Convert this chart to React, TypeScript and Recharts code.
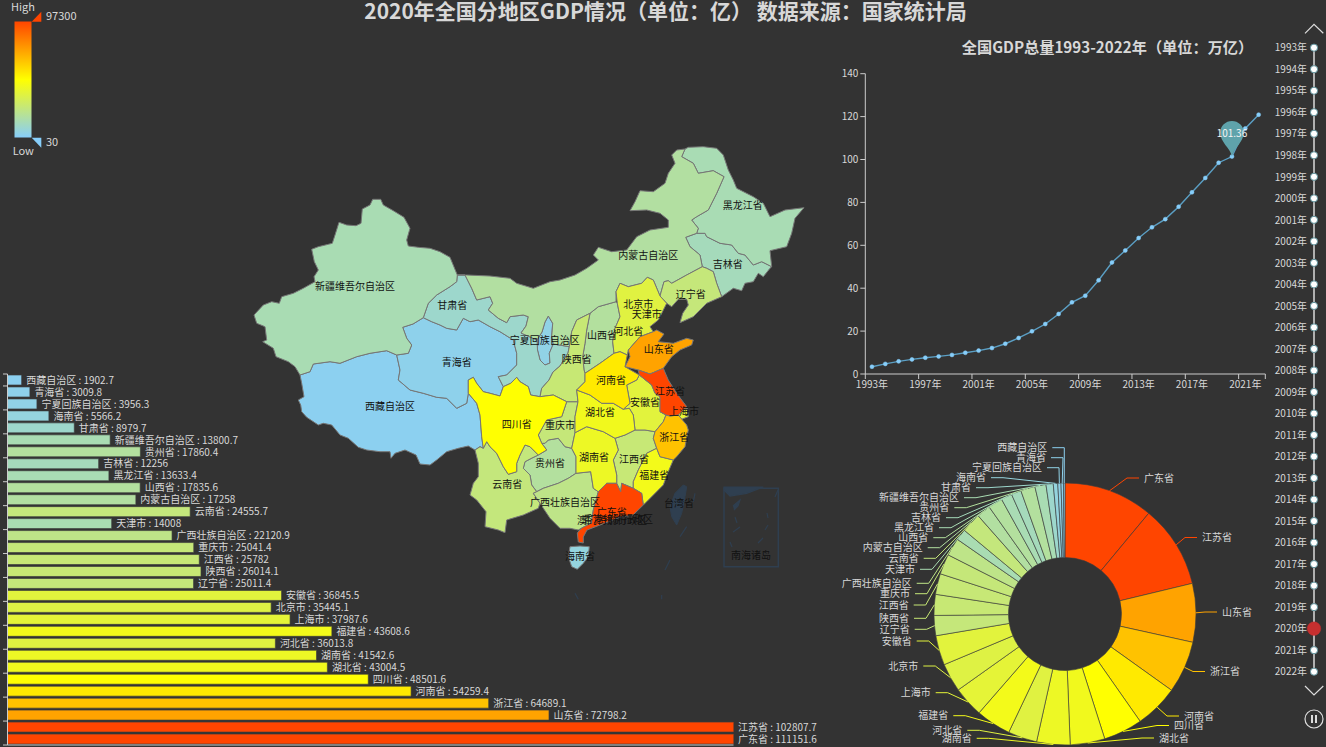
import {
  BarChart,
  Bar,
  Cell,
  ComposedChart,
  Line,
  LineChart,
  Pie,
  PieChart,
  ReferenceDot,
  Scatter,
  XAxis,
  YAxis,
} from "recharts";

const FONT = '"Noto Sans CJK SC", "Noto Sans", sans-serif';
const BG = "#333333";
const TEXT = "#d8d8d8";
const AXIS = "#cccccc";
// Noto sits a little lower than the reference face
const TEXT_NUDGE = -0.8;

// province GDP 2020, in the order of the bar chart, top to bottom
const regions = [
  "西藏自治区", "青海省", "宁夏回族自治区", "海南省", "甘肃省", "新疆维吾尔自治区", "贵州省", "吉林省",
  "黑龙江省", "山西省", "内蒙古自治区", "云南省", "天津市", "广西壮族自治区", "重庆市", "江西省",
  "陕西省", "辽宁省", "安徽省", "北京市", "上海市", "福建省", "河北省", "湖南省",
  "湖北省", "四川省", "河南省", "浙江省", "山东省", "江苏省", "广东省",
];
const gdp2020 = [
  1902.7, 3009.8, 3956.3, 5566.2, 8979.7, 13800.7, 17860.4, 12256,
  13633.4, 17835.6, 17258, 24555.7, 14008, 22120.9, 25041.4, 25782,
  26014.1, 25011.4, 36845.5, 35445.1, 37987.6, 43608.6, 36013.8, 41542.6,
  43004.5, 48501.6, 54259.4, 64689.1, 72798.2, 102807.7, 111151.6,
];
const barTicks = [0, 20000, 40000, 60000, 80000];

const years = [
  "1993年", "1994年", "1995年", "1996年", "1997年", "1998年", "1999年", "2000年", "2001年", "2002年",
  "2003年", "2004年", "2005年", "2006年", "2007年", "2008年", "2009年", "2010年", "2011年", "2012年",
  "2013年", "2014年", "2015年", "2016年", "2017年", "2018年", "2019年", "2020年", "2021年", "2022年",
];
const nationalGdp = [
  3.4, 4.7, 5.9, 6.8, 7.6, 8.2, 8.9, 9.9, 10.9, 12.1,
  14.1, 16.8, 19.9, 23.3, 28.0, 33.4, 36.5, 43.7, 52.0, 57.6,
  63.4, 68.4, 72.2, 78.0, 84.7, 91.4, 98.5, 101.36, 114.5, 120.9,
];
const lineTicks = [0, 20, 40, 60, 80, 100, 120, 140];
const currentYear = "2020年";

// pie goes clockwise from 广东省, label placement: [text edge x, y]
const pieLabelSpots: [number, number][] = [
  [1144, 478], [1202, 537.5], [1222, 612], [1210, 671.5], [1184, 716], [1174, 725.5], [1159, 738],
  [971.7, 738.3], [962.3, 730.3], [948.3, 715.7], [930.7, 692.7], [918.3, 666], [911.7, 641], [909.7, 629.3],
  [909, 618.3], [908.7, 605], [910, 593.7], [911.7, 583.3], [915, 569.3], [918.7, 558.3], [922.7, 547.7],
  [928.3, 537.7], [934, 527.7], [941, 517.7], [949.3, 507.7], [959, 497.7], [971, 487.7], [986, 477.7],
  [1042, 467.7], [1046, 457.7], [1047.3, 447.7],
];

// map label anchors in page pixels
const mapLabels: Record<string, [number, number]> = {
  新疆维吾尔自治区: [355, 286], 甘肃省: [452.3, 305.7], 青海省: [456.7, 362], 宁夏回族自治区: [544.7, 340],
  西藏自治区: [390, 406.7], 四川省: [516.7, 424.3], 重庆市: [560, 425], 云南省: [507.3, 484.3],
  贵州省: [550, 463.3], 广西壮族自治区: [565, 502.7], 陕西省: [576.7, 359.3], 山西省: [602, 335],
  河北省: [628.3, 331], 北京市: [638.3, 304], 天津市: [646.7, 314], 辽宁省: [690.7, 294],
  内蒙古自治区: [648.3, 255.3], 黑龙江省: [742.7, 205], 吉林省: [727.7, 264.3], 山东省: [658.7, 349.3],
  河南省: [611, 380.7], 江苏省: [670, 391.7], 安徽省: [645, 402.3], 湖北省: [600, 412.3],
  上海市: [684, 411], 浙江省: [674.3, 437.3], 湖南省: [594, 457.3], 江西省: [634, 459],
  福建省: [654.3, 475.3], 广东省: [611.7, 512.7], 海南省: [580, 556.7],
};
const noDataLabels: [string, number, number][] = [
  ["台湾省", 679, 503.3], ["南海诸岛", 751, 555.3], ["澳门特别行政区", 612, 520.5], ["香港特别行政区", 618, 519],
];

// province outlines, page pixels
const outlines: Record<string, string> = {
  新疆维吾尔自治区:
    "457.3,275 450,257.3 440,251.7 430,248.3 418.3,247.3 408.3,246 406.7,240 410,228.3 404,217.3 393.3,210.7 383.3,205 380.7,199.3 372.7,199.3 370,205 362.3,209 361,223.3 356,225.7 346.7,225 339,222.3 335,235 332.3,243.3 328.3,244.3 318.3,246.7 311.7,249.3 314.3,261.7 318.3,270 314,276.7 315,281.7 303.3,288.3 293.3,293.3 281.7,296.7 279.3,303.3 271.7,301.7 263.3,305 254,315 256.7,323.3 265,326.7 266.7,340 262.7,341.7 273.3,348.3 276,356.7 288.3,361.7 295,366.7 300,375 310,371.7 313.3,364 330,361.7 340,363.3 356.7,356.7 370,353.3 386.7,350.7 396.7,355 408.3,353.3 411.7,345 406.7,338.3 402.7,327.3 413,324 423.3,317.7 428.3,303.3 436.7,295 450,286.7 456.7,281.7",
  西藏自治区:
    "300,375 310,371.7 313.3,364 330,361.7 340,363.3 356.7,356.7 370,353.3 386.7,350.7 396.7,355 400,370 398.3,380 410,390 423.3,393.3 436.7,397.3 446.7,398.3 456.7,408.3 466.7,403.3 468.3,393.3 476.7,403.3 480,415 481.7,436.7 483.3,448.3 480,446.7 475,450 468.3,446 458.3,448.3 446.7,451.7 436.7,460 430,465 420,464 416,455 405,450 395,453.3 391,458.3 390,451.7 380,451.7 366.7,450 358.3,447.3 348.3,438.3 340,435 331.7,425 323.3,423.3 318.3,425 306.7,417.3 301.7,411.7 300.7,405 298.3,400 304,396.7 301.7,383.3",
  青海省:
    "402.7,327.3 413,324 423.3,317.7 431.7,321.7 440,325 446.7,328.3 456.7,330 463.3,318.3 470,321.7 478.3,320 490,326.7 500,331.7 513.3,340 516.7,353.3 516.7,365 506.7,375 498.3,376.7 503.3,386.7 500,396 490,393.3 483.3,391.7 476.7,383.3 473.3,377.3 468.3,380 468.3,393.3 466.7,403.3 456.7,408.3 446.7,398.3 436.7,397.3 423.3,393.3 410,390 398.3,380 400,370 396.7,355 408.3,353.3 411.7,345 406.7,338.3",
  甘肃省:
    "457.3,275 465,275 471.7,288.3 476.7,300 490,296.7 492.7,303.3 488.3,310 498.3,318.3 506.7,322.7 510,316.7 523.3,315 528.3,316.7 526,326 521,333 530,337 537,340 537.5,350 540,360 545,365 550,363 549.3,353.3 553.3,344 569.3,346.7 568,353 560,366 553,372 549,380 541.7,388.3 540,396.7 530.7,395 528.3,386.7 520,381.7 516.7,377.3 510.7,383.3 503.3,386.7 498.3,376.7 506.7,375 516.7,365 516.7,353.3 513.3,340 500,331.7 490,326.7 478.3,320 470,321.7 463.3,318.3 456.7,330 446.7,328.3 440,325 431.7,321.7 423.3,317.7 428.3,303.3 436.7,295 450,286.7 456.7,281.7",
  宁夏回族自治区:
    "548.3,316 552.7,323.3 551.7,336.7 553.3,344 549.3,353.3 550,363 545,365 540,360 537.5,350 537,340 542,332 545,322",
  内蒙古自治区:
    "457.3,275 466.7,275 490,276 510,278.3 516.7,283.3 533.3,288.3 550,281.7 560,280 575,275 586.7,268.3 598.3,260 593.3,255 598.3,247.3 611.7,251.7 626.7,250 636.7,236.7 650,230 668.3,227.3 668.3,220 660,213.3 646.7,210 630,210.7 635,201.7 640,190.7 653.3,191.7 665,183.3 668.3,173.3 675,163.3 671.7,155 676.7,150 685,149 681.7,156.7 693.3,163.3 698.3,173.3 713.3,170.7 724,176.7 716.7,193.3 708.3,210 696.7,216.7 691.7,220 698.3,228.3 696.7,233.3 685.7,237.3 690,246.7 700,255 702.3,266.7 686.7,275 671.7,283.3 668.3,280.7 664,281.7 660,296 653.3,280 647.3,277.3 641.7,283.3 628.3,286.7 620,283.3 616,291.7 616,301.7 598.3,306.7 590,313.3 576.7,320 571.7,331.7 569.3,346.7 553.3,344 551.7,336.7 552.7,323.3 548.3,316 545,322 542,332 537,340 530,337 521,333 526,326 528.3,316.7 523.3,315 510,316.7 506.7,322.7 498.3,318.3 488.3,310 492.7,303.3 490,296.7 476.7,300 471.7,288.3 465,275",
  黑龙江省:
    "685,149 688.3,147.3 703.3,146.7 716.7,148.3 723.3,155 728.3,170 733.3,180 736.7,188.3 753.3,196.7 763.3,203.3 770,216.7 785,210 804,207.7 795,218.3 791.7,233.3 786.7,246.7 770,250.7 771.7,266.7 761.7,261.7 753.3,265 745,255 738.3,253.3 731.7,245 720,243.3 706.7,236.7 705,233.3 696.7,233.3 698.3,228.3 691.7,220 696.7,216.7 708.3,210 716.7,193.3 724,176.7 713.3,170.7 698.3,173.3 693.3,163.3 681.7,156.7",
  吉林省:
    "696.7,233.3 705,233.3 706.7,236.7 720,243.3 731.7,245 738.3,253.3 745,255 753.3,265 761.7,261.7 771.7,266.7 770,268.3 763.3,276.7 758.3,273.3 753.3,281.7 745,283.3 741.7,290.7 733.3,288.3 721.7,296.7 716.7,283.3 713.3,271.7 706.7,268.3 702.3,266.7 700,255 690,246.7 685.7,237.3",
  辽宁省:
    "702.3,266.7 706.7,268.3 713.3,271.7 716.7,283.3 721.7,296.7 706.7,303.3 693.3,316.7 680,322.7 682.7,313.3 688.3,305 686.7,299.3 678.3,299.3 671.7,306.7 666.7,303.3 660,296 664,281.7 668.3,280.7 671.7,283.3 686.7,275",
  河北省:
    "616,291.7 620,283.3 628.3,286.7 641.7,283.3 647.3,277.3 653.3,280 660,296 666.7,303.3 661.7,313.3 658.3,320 650,326.7 653.3,331.7 640,336.7 628.3,350 627.3,355 620,351.7 614,353.3 612.7,341.7 615,328.3 620,316.7 617.3,303.3",
  北京市: "631.7,303.3 636.7,297.3 643.3,300 645,308.3 638.3,313.3 630,310",
  天津市: "641.7,315 648.3,313.3 651.7,318.3 650,324 643.3,325 640,320",
  山西省:
    "590,313.3 598.3,306.7 616,301.7 617.3,303.3 620,316.7 615,328.3 612.7,341.7 614,353.3 600,363.3 590,370 585,373.3 584,370 582.7,356.7 585,343.3 586.7,330",
  陕西省:
    "590,313.3 576.7,320 571.7,331.7 569.3,346.7 568,353 560,366 553,372 549,380 541.7,388.3 540,396.7 553.3,395 566.7,401.7 578,401.7 576.7,390 585,381.7 585,373.3 584,370 582.7,356.7 585,343.3 586.7,330",
  河南省:
    "585,373.3 590,370 600,363.3 614,353.3 620,351.7 627.3,355 625,366.7 639.3,375 636.7,380 626.7,385 630,403.3 623.3,409.3 613.3,403.3 601.7,403.3 590,395 576.7,390 585,381.7",
  山东省:
    "640,336.7 653.3,331.7 656.7,330 664,334 658.3,341.7 673.3,343.3 686.7,338.3 693.3,340 691.7,345 680,350 671.7,356.7 663.3,368.3 650,374 638.3,370 625,366.7 630,356.7 628.3,350",
  江苏省:
    "638.3,370 650,374 663.3,368.3 668.3,380 676.7,393.3 686.7,406.7 678.3,415 670,416 666,415 660,411.7 660,396.7 655,393.3 651.7,385 639.3,375",
  上海市: "680,410 687.3,408.3 688.3,416.7 681.7,419.3 678.3,415",
  安徽省:
    "639.3,375 651.7,385 655,393.3 660,396.7 660,411.7 666,415 663.3,421.7 655,431.7 645,430 635,430 633.3,415 629.3,408.3 623.3,409.3 630,403.3 626.7,385 636.7,380",
  湖北省:
    "576.7,390 590,395 601.7,403.3 613.3,403.3 623.3,409.3 629.3,408.3 633.3,415 635,430 625,435 615,438.3 603.3,431.7 586.7,426.7 575,432.7 575,416.7 578,401.7",
  重庆市:
    "566.7,401.7 578,401.7 575,416.7 575,432.7 571.7,448.3 565,446.7 558.3,438.3 548.3,440 545,443.3 541.7,443.3 538.3,435 546.7,420 561.7,416.7",
  四川省:
    "468.3,380 473.3,377.3 476.7,383.3 483.3,391.7 490,393.3 500,396 503.3,386.7 510.7,383.3 516.7,377.3 520,381.7 528.3,386.7 530.7,395 540,396.7 553.3,395 566.7,401.7 561.7,416.7 546.7,420 538.3,435 541.7,443.3 546.7,450 538.3,455 530,446.7 525,445 520,455 516.7,463.3 516.7,471.7 508.3,474.3 503.3,466.7 496.7,453.3 490,446.7 486.7,441.7 483.3,448.3 481.7,436.7 480,415 476.7,403.3 468.3,393.3",
  贵州省:
    "525,461.7 532,458 538.3,455 546.7,450 541.7,443.3 545,443.3 548.3,440 558.3,438.3 565,446.7 571.7,448.3 576,456.7 576,473.3 568.3,478.3 558.3,483.3 543.3,488.3 536.7,491.7 531.7,485 530,475 523.3,468.3",
  云南省:
    "483.3,448.3 486.7,441.7 490,446.7 496.7,453.3 503.3,466.7 508.3,474.3 516.7,471.7 516.7,463.3 520,455 525,445 530,446.7 538.3,455 532,458 525,461.7 523.3,468.3 530,475 531.7,485 536.7,491.7 533.3,493.3 540,503.3 538.3,508.3 523.3,515 506.7,520 505,532.7 498.3,530 485,526.7 486,511.7 476.7,500 470,495 473.3,483.3 478.3,476.7 478.3,463.3 475,450 480,446.7",
  广西壮族自治区:
    "536.7,491.7 543.3,488.3 558.3,483.3 568.3,478.3 576,473.3 590.7,471.7 593.3,488.3 598.3,491.7 593.3,510 591.7,520 591.7,523 581.7,528 578.3,530 570,528.3 560,528.3 550,518.3 540,503.3 533.3,493.3",
  湖南省:
    "575,432.7 586.7,426.7 603.3,431.7 615,438.3 618.3,450 613.3,460 616.7,475 616.7,483.3 606.7,483.3 598.3,491.7 593.3,488.3 590.7,471.7 576,473.3 576,456.7 571.7,448.3",
  江西省:
    "615,438.3 625,435 635,430 645,430 655,431.7 653.3,438.3 656.7,448.3 646.7,453.3 638.3,470 633.3,481.7 633.3,488.3 621.7,483.3 620.7,491.7 616.7,483.3 616.7,475 613.3,460 618.3,450",
  浙江省:
    "655,431.7 663.3,421.7 666,415 670,416 678.3,415 686.7,425 688.3,430 685,446.7 676.7,456.7 673.3,460 660,456.7 656.7,448.3 653.3,438.3",
  福建省:
    "656.7,448.3 660,456.7 673.3,460 668.3,471.7 663.3,485 646.7,501.7 643.3,505 641.7,493.3 633.3,488.3 633.3,481.7 638.3,470 646.7,453.3",
  广东省:
    "606.7,483.3 616.7,483.3 620.7,491.7 621.7,483.3 633.3,488.3 641.7,493.3 643.3,505 633,515 620,517 600,525 587,530 583.3,537 583.3,543 578.3,542 577.3,533 581.7,528 591.7,523 591.7,520 593.3,510 598.3,491.7",
  海南省:
    "570,546.7 580,546 589.3,546.7 588.3,556.7 583.3,563.3 577.3,569.3 571.7,566.7 568.3,556.7",
};
const taiwanOutline =
  "683.3,485 686.7,486.7 685,496.7 681.7,513.3 676.7,525 671.7,516.7 670,506.7 675,493.3";
const southSeaMarks = [
  "724,488.3 778.3,488.3 778.3,566.7 724,566.7",
  "724,490 730,496 746.7,493.3 763.3,487 724,487",
  "733,506 740,500 738,506 734,510",
  "735,517 737,523", "733,532 740,527", "730,542 732,547", "767,513 768,518", "765,530 768,525", "758,543 763,538", "775,497 778,490",
  "695,493.3 693.3,501.7", "686.7,526.7 680,536.7", "670,560 665,570", "575,593.3 578.3,599.3", "661.7,595 661.7,599.3",
];

const mapData = regions
  .filter((name) => mapLabels[name])
  .map((name) => ({
    name,
    value: gdp2020[regions.indexOf(name)],
    x: mapLabels[name][0],
    y: mapLabels[name][1],
  }));
const labelData = [
  ...mapData,
  ...noDataLabels.map(([name, x, y]) => ({ name, value: 0, x, y })),
];

const barData = regions.map((name, i) => ({ name, value: gdp2020[i] }));
const pieData = [...barData].reverse();
const lineData = years.map((year, i) => ({ year, value: nationalGdp[i] }));
const timelineData = years.map((year) => ({ year, track: 1 }));

const VISUAL_MIN = 30;
const VISUAL_MAX = 97300;

// same ramp as the visual map: lightskyblue -> yellow -> orangered
function rampColor(v: number) {
  const stops = [
    [135, 206, 250],
    [255, 255, 0],
    [255, 69, 0],
  ];
  const t = Math.max(0, Math.min(1, (v - VISUAL_MIN) / (VISUAL_MAX - VISUAL_MIN))) * 2;
  const i = t >= 1 ? 1 : 0;
  const f = t - i;
  const c = stops[i].map((s, k) => Math.round(s + (stops[i + 1][k] - s) * f));
  return `rgb(${c[0]},${c[1]},${c[2]})`;
}

function toPath(points: string, close = true) {
  return "M" + points.trim().split(" ").join("L") + (close ? "Z" : "");
}

const ProvinceShape = (props: any) => {
  const { cx, cy, payload } = props;
  return (
    <path
      d={toPath(outlines[payload.name])}
      transform={`translate(${cx - payload.x},${cy - payload.y})`}
      fill={rampColor(payload.value)}
      stroke="#767676"
      strokeWidth={1}
      strokeLinejoin="round"
    />
  );
};

const ProvinceLabel = (props: any) => {
  const { cx, cy, payload } = props;
  return (
    <text
      x={cx}
      y={cy + TEXT_NUDGE}
      textAnchor="middle"
      dominantBaseline="central"
      fontSize={10}
      fontFamily={FONT}
      fill="#111"
    >
      {payload.name}
    </text>
  );
};

const BAR_RIGHT = 733.5;

const BarValueLabel = (props: any) => {
  const { x, y, width, height, index } = props;
  const end = Math.min(x + width, BAR_RIGHT);
  return (
    <text
      x={end + 4.5}
      y={y + height / 2 + TEXT_NUDGE}
      dominantBaseline="central"
      fontSize={10}
      fontFamily={FONT}
      fill={TEXT}
    >
      {`${regions[index]} : ${gdp2020[index]}`}
    </text>
  );
};

const BarCategoryTick = (props: any) => {
  const { y, index } = props;
  const band = 371 / regions.length;
  if (index % 2 !== 0) return <g />;
  return (
    <g>
      <line x1={3} x2={7.5} y1={y + band / 2} y2={y + band / 2} stroke={AXIS} />
      {index === 0 && <line x1={3} x2={7.5} y1={y - band / 2} y2={y - band / 2} stroke={AXIS} />}
    </g>
  );
};

const PIE_LEFT = 840;
const PIE_TOP = 430;

const PieLabel = (props: any) => {
  const { cx, cy, midAngle, outerRadius, index, fill } = props;
  const [edge, labelY] = pieLabelSpots[index];
  const x = edge - PIE_LEFT;
  const y = labelY - PIE_TOP;
  const rad = (-midAngle * Math.PI) / 180;
  const sx = cx + outerRadius * Math.cos(rad);
  const sy = cy + outerRadius * Math.sin(rad);
  const right = index < 7;
  const end = right ? x - 5 : x + 5;
  const elbow = right ? x - 17 : x + 17;
  return (
    <g>
      <polyline
        points={`${sx},${sy} ${elbow},${y} ${end},${y}`}
        fill="none"
        stroke={fill}
        strokeWidth={1}
      />
      <text
        x={x}
        y={y + TEXT_NUDGE}
        textAnchor={right ? "start" : "end"}
        dominantBaseline="central"
        fontSize={10}
        fontFamily={FONT}
        fill={TEXT}
      >
        {pieData[index].name}
      </text>
    </g>
  );
};

const LINE_BAND = 400 / years.length;

const YearTick = (props: any) => {
  const { x, payload } = props;
  const axisY = 314;
  return (
    <g>
      <line x1={x - LINE_BAND / 2} x2={x - LINE_BAND / 2} y1={axisY} y2={axisY + 5} stroke={AXIS} />
      {payload.value === "2021年" && (
        <line x1={x + LINE_BAND * 1.5} x2={x + LINE_BAND * 1.5} y1={axisY} y2={axisY + 5} stroke={AXIS} />
      )}
      <text
        x={x}
        y={axisY + 10 + TEXT_NUDGE}
        textAnchor="middle"
        dominantBaseline="central"
        fontSize={10}
        fontFamily={FONT}
        fill={TEXT}
      >
        {payload.value}
      </text>
    </g>
  );
};

const PinMarker = (props: any) => {
  const { cx, cy } = props;
  const head = cy - 24;
  return (
    <g>
      <path
        d={`M${cx},${cy} C${cx - 2},${cy - 9} ${cx - 11.7},${cy - 14} ${cx - 11.7},${head} A11.7,11.7 0 1 1 ${cx + 11.7},${head} C${cx + 11.7},${cy - 14} ${cx + 2},${cy - 9} ${cx},${cy} Z`}
        fill="#5fa3ab"
      />
      <text
        x={cx}
        y={head + 1 + TEXT_NUDGE}
        textAnchor="middle"
        dominantBaseline="central"
        fontSize={10}
        fontFamily={FONT}
        fill="#f4f4f4"
      >
        101.36
      </text>
    </g>
  );
};

const TimelineTick = (props: any) => {
  const { y, payload } = props;
  return (
    <text
      x={67}
      y={y + TEXT_NUDGE}
      textAnchor="end"
      dominantBaseline="central"
      fontSize={10}
      fontFamily={FONT}
      fill={TEXT}
    >
      {payload.value}
    </text>
  );
};

const TimelineDot = (props: any) => {
  const { cx, cy, payload, index } = props;
  if (payload.year === currentYear) {
    return <circle key={index} cx={cx} cy={cy} r={6.8} fill="#c62f2f" stroke="#c62f2f" strokeOpacity={0.4} strokeWidth={1} />;
  }
  return <circle key={index} cx={cx} cy={cy} r={3.6} fill="#ffffff" stroke="#5c8f99" strokeWidth={1} />;
};

const layer = (left: number, top: number) => ({ position: "absolute" as const, left, top });

export default function App() {
  return (
    <div
      style={{
        position: "relative",
        width: 1326,
        height: 747,
        background: BG,
        overflow: "hidden",
        fontFamily: FONT,
      }}
    >
      <style>{"body{margin:0;background:#333}"}</style>

      {/* taiwan and the south sea frame sit under the map labels */}
      <svg width={1326} height={747} style={layer(0, 0)}>
        <path d={toPath(taiwanOutline)} fill="#2f3f50" stroke="#2f3f50" />
        {southSeaMarks.map((m, i) => (
          <path
            key={i}
            d={toPath(m, i > 1 ? false : true)}
            fill={i === 1 || i === 2 ? "#2f3f50" : "none"}
            stroke="#2f3f50"
            strokeWidth={i === 0 ? 1.5 : 1.2}
          />
        ))}
      </svg>

      {/* map: axes run in page pixels, outlines are traced against them */}
      <div style={layer(0, 0)}>
        <ComposedChart width={1326} height={747} margin={{ top: 0, right: 0, bottom: 0, left: 0 }}>
          <XAxis type="number" dataKey="x" domain={[0, 1326]} hide />
          <YAxis type="number" dataKey="y" domain={[0, 747]} reversed hide />
          <Scatter data={mapData} shape={ProvinceShape} isAnimationActive={false} />
          <Scatter data={labelData} shape={ProvinceLabel} isAnimationActive={false} />
        </ComposedChart>
      </div>

      <svg width={1326} height={747} style={{ ...layer(0, 0), pointerEvents: "none" }}>
        {/* titles */}
        <text x={665.5} y={10.3} textAnchor="middle" dominantBaseline="central" fontSize={21} fontWeight={700} fontFamily={FONT} fill={TEXT}>
          2020年全国分地区GDP情况（单位：亿） 数据来源：国家统计局
        </text>
        <text x={1107.5} y={46.3} textAnchor="middle" dominantBaseline="central" fontSize={15.2} fontWeight={700} fontFamily={FONT} fill={TEXT}>
          全国GDP总量1993-2022年（单位：万亿）
        </text>

        {/* visual map */}
        <defs>
          <linearGradient id="ramp" x1="0" y1="0" x2="0" y2="1">
            <stop offset="0" stopColor="#ff4500" />
            <stop offset="0.5" stopColor="#ffff00" />
            <stop offset="1" stopColor="#87cefa" />
          </linearGradient>
        </defs>
        <rect x={14.5} y={21.5} width={17} height={116} fill="url(#ramp)" />
        <polygon points="31.7,21.7 41.3,21.7 41.3,11.7" fill="#ff4500" />
        <polygon points="31.7,137.7 41.3,137.7 41.3,147.7" fill="#87cefa" />
        <text x={23} y={6.3} textAnchor="middle" dominantBaseline="central" fontSize={11} fontFamily={FONT} fill={TEXT}>High</text>
        <text x={23.3} y={149.7} textAnchor="middle" dominantBaseline="central" fontSize={11} fontFamily={FONT} fill={TEXT}>Low</text>
        <text x={46} y={14.5} dominantBaseline="central" fontSize={11} fontFamily={FONT} fill={TEXT}>97300</text>
        <text x={46} y={141.2} dominantBaseline="central" fontSize={11} fontFamily={FONT} fill={TEXT}>30</text>

        {/* timeline controls */}
        <polyline points="1305,33.3 1314,24.3 1323.3,33.3" fill="none" stroke="#dddddd" strokeWidth={1.2} />
        <polyline points="1305,686 1314,695 1323.3,686" fill="none" stroke="#dddddd" strokeWidth={1.2} />
        <circle cx={1314} cy={719} r={9} fill="none" stroke="#dddddd" strokeWidth={1.2} />
        <rect x={1311} y={715} width={2} height={8} fill="#dddddd" />
        <rect x={1315} y={715} width={2} height={8} fill="#dddddd" />
      </svg>

      {/* provinces bar */}
      <div style={layer(0, 360)}>
        <BarChart
          layout="vertical"
          width={900}
          height={387}
          data={barData}
          margin={{ top: 14, right: 166.5, bottom: 0, left: 0 }}
        >
          <XAxis
            type="number"
            domain={[0, 97600]}
            ticks={barTicks}
            allowDataOverflow
            height={2}
            tick={false}
            tickSize={5}
            stroke={AXIS}
          />
          <YAxis
            type="category"
            dataKey="name"
            width={7.5}
            interval={0}
            tickLine={false}
            tick={BarCategoryTick}
            stroke={AXIS}
          />
          <Bar
            dataKey="value"
            barSize={10}
            stroke="rgba(60,60,60,0.65)"
            strokeWidth={1}
            label={BarValueLabel}
            isAnimationActive={false}
          >
            {barData.map((d) => (
              <Cell key={d.name} fill={rampColor(d.value)} />
            ))}
          </Bar>
        </BarChart>
      </div>

      {/* national gdp line */}
      <div style={layer(820, 60)}>
        <LineChart
          width={460}
          height={345}
          data={lineData}
          margin={{ top: 13.7, right: 14.7, bottom: 0, left: 0 }}
        >
          <XAxis
            dataKey="year"
            interval={3}
            height={31}
            padding={{ left: LINE_BAND / 2, right: LINE_BAND / 2 }}
            tickLine={false}
            tick={YearTick}
            stroke={AXIS}
          />
          <YAxis
            type="number"
            domain={[0, 140]}
            ticks={lineTicks}
            width={45.3}
            tickSize={5}
            stroke={AXIS}
            tick={{ fill: TEXT, fontSize: 10, fontFamily: FONT }}
          />
          <Line
            dataKey="value"
            stroke="#5b9fc4"
            strokeWidth={1.4}
            dot={{ r: 2, fill: "#87cefa", stroke: "#87cefa", strokeWidth: 0.5 }}
            isAnimationActive={false}
          />
          <ReferenceDot x={currentYear} y={101.36} shape={PinMarker} />
        </LineChart>
      </div>

      {/* share pie */}
      <div style={layer(PIE_LEFT, PIE_TOP)}>
        <PieChart width={440} height={317} margin={{ top: 0, right: 0, bottom: 0, left: 0 }}>
          <Pie
            data={pieData}
            dataKey="value"
            nameKey="name"
            cx={225}
            cy={184}
            innerRadius={56.5}
            outerRadius={131}
            startAngle={90}
            endAngle={-270}
            stroke="rgba(60,60,60,0.6)"
            strokeWidth={1}
            label={PieLabel}
            labelLine={false}
            isAnimationActive={false}
          >
            {pieData.map((d) => (
              <Cell key={d.name} fill={rampColor(d.value)} />
            ))}
          </Pie>
        </PieChart>
      </div>

      {/* timeline */}
      <div style={layer(1240, 30)}>
        <LineChart
          layout="vertical"
          width={86}
          height={660}
          data={timelineData}
          margin={{ top: 17.7, right: 2, bottom: 18.3, left: 0 }}
        >
          <XAxis type="number" domain={[0, 2]} hide />
          <YAxis
            type="category"
            dataKey="year"
            width={64}
            interval={0}
            axisLine={false}
            tickLine={false}
            tick={TimelineTick}
          />
          <Line
            dataKey="track"
            stroke="#b0b0b0"
            strokeWidth={2}
            dot={TimelineDot}
            isAnimationActive={false}
          />
        </LineChart>
      </div>
    </div>
  );
}
